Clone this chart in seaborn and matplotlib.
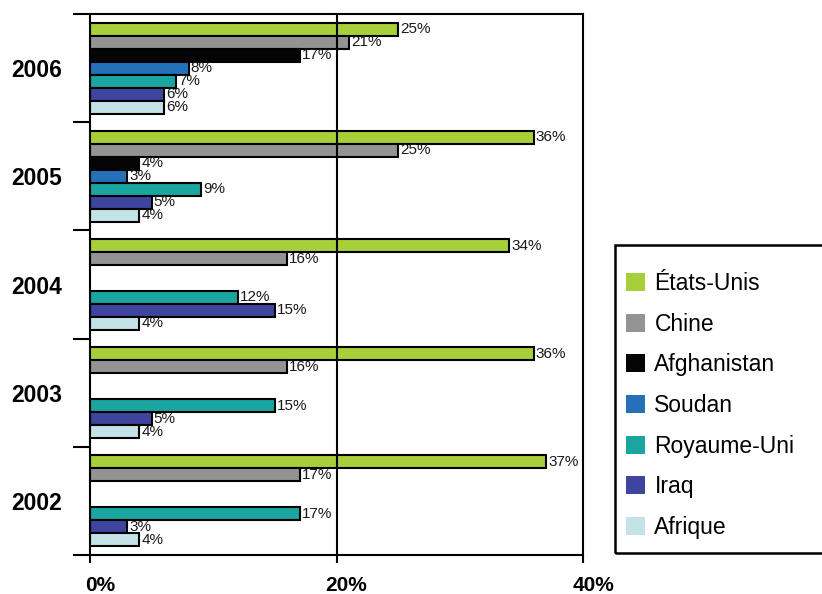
import matplotlib
matplotlib.use("Agg")
import matplotlib.pyplot as plt
import matplotlib.transforms as mtransforms
from matplotlib.patches import Patch, Rectangle
import numpy as np
import pandas as pd
import seaborn as sns

# Years (top to bottom) and countries (order inside each group)
years = ["2006", "2005", "2004", "2003", "2002"]
countries = ["États-Unis", "Chine", "Afghanistan", "Soudan", "Royaume-Uni", "Iraq", "Afrique"]

# Share per country and year, in percent (None = not reported)
etats_unis = [25, 36, 34, 36, 37]
chine = [21, 25, 16, 16, 17]
afghanistan = [17, 4, None, None, None]
soudan = [8, 3, None, None, None]
royaume_uni = [7, 9, 12, 15, 17]
iraq = [6, 5, 15, 5, 3]
afrique = [6, 4, 4, 4, 4]

colors = ["#a6cf3a", "#939393", "#050505", "#2471ba", "#1ba5a0", "#3f459e", "#c3e3e6"]

x_ticks = [0, 20, 40]
x_tick_labels = ["0%", "20%", "40%"]

series = [etats_unis, chine, afghanistan, soudan, royaume_uni, iraq, afrique]
rows = []
for country, vals in zip(countries, series):
    for year, v in zip(years, vals):
        if v is not None:
            rows.append({"year": year, "country": country, "value": v})
df = pd.DataFrame(rows)

sns.set_style("white")
plt.rcParams["font.family"] = ["Liberation Sans", "DejaVu Sans"]
plt.rcParams["text.color"] = "black"
plt.rcParams["xtick.color"] = "black"
plt.rcParams["ytick.color"] = "black"

fig = plt.figure(figsize=(8.22, 5.94), dpi=100)
W, H = 822, 594
ax = fig.add_axes([90 / W, 1 - 555 / H, 493 / W, 541 / H])

sns.barplot(
    data=df, y="year", x="value", hue="country",
    order=years, hue_order=countries, palette=colors,
    orient="h", width=0.84, edgecolor="black", linewidth=1.5,
    saturation=1, legend=False, ax=ax,
)

for cont in ax.containers:
    ax.bar_label(cont, labels=[f"{int(round(v))}%" for v in cont.datavalues],
                 padding=1.5, fontsize=11, color="#1a1a1a")

ax.axvline(20, color="black", lw=1.5, zorder=4)

ax.set_xlim(0, 40)
ax.set_ylim(4.5, -0.5)
ax.set_xlabel("")
ax.set_ylabel("")

# x axis
ax.set_xticks(x_ticks)
ax.set_xticklabels(x_tick_labels, fontsize=15, fontweight="bold", color="black")
ax.tick_params(axis="x", which="major", direction="out", length=6, width=1.5,
               color="black", pad=9, bottom=True)
shift = mtransforms.ScaledTranslation(10 / 100, 0, fig.dpi_scale_trans)
for lbl in ax.get_xticklabels():
    lbl.set_transform(lbl.get_transform() + shift)

# y axis: tick marks between groups, labels at group centres
ax.set_yticks(np.arange(-0.5, 5, 1.0))
ax.set_yticklabels([])
ax.tick_params(axis="y", which="major", direction="out", length=12, width=1.5,
               color="black", left=True)
ax.set_yticks(np.arange(len(years)), minor=True)
ax.set_yticklabels(years, minor=True, fontsize=16.5, fontweight="bold", color="black")
ax.tick_params(axis="y", which="minor", length=0, pad=20, left=True)

for sp in ax.spines.values():
    sp.set_visible(True)
    sp.set_color("black")
    sp.set_linewidth(1.5)

# legend box (runs off the right edge)
frame = Rectangle((615 / W, 1 - 553 / H), 230 / W, 308 / H, transform=fig.transFigure,
                  fill=False, edgecolor="black", linewidth=1.8, clip_on=False)
fig.patches.append(frame)

handles = [Patch(facecolor=c, edgecolor="none", label=n) for c, n in zip(colors, countries)]
fig.legend(handles=handles, loc="upper left",
           bbox_to_anchor=(626 / W, 1 - 272 / H), bbox_transform=fig.transFigure,
           frameon=False, fontsize=16.5, handlelength=0.84, handleheight=0.84,
           handletextpad=0.4, labelspacing=0.77, borderpad=0, borderaxespad=0,
           labelcolor="black")

fig.savefig("out.png", dpi=100)
